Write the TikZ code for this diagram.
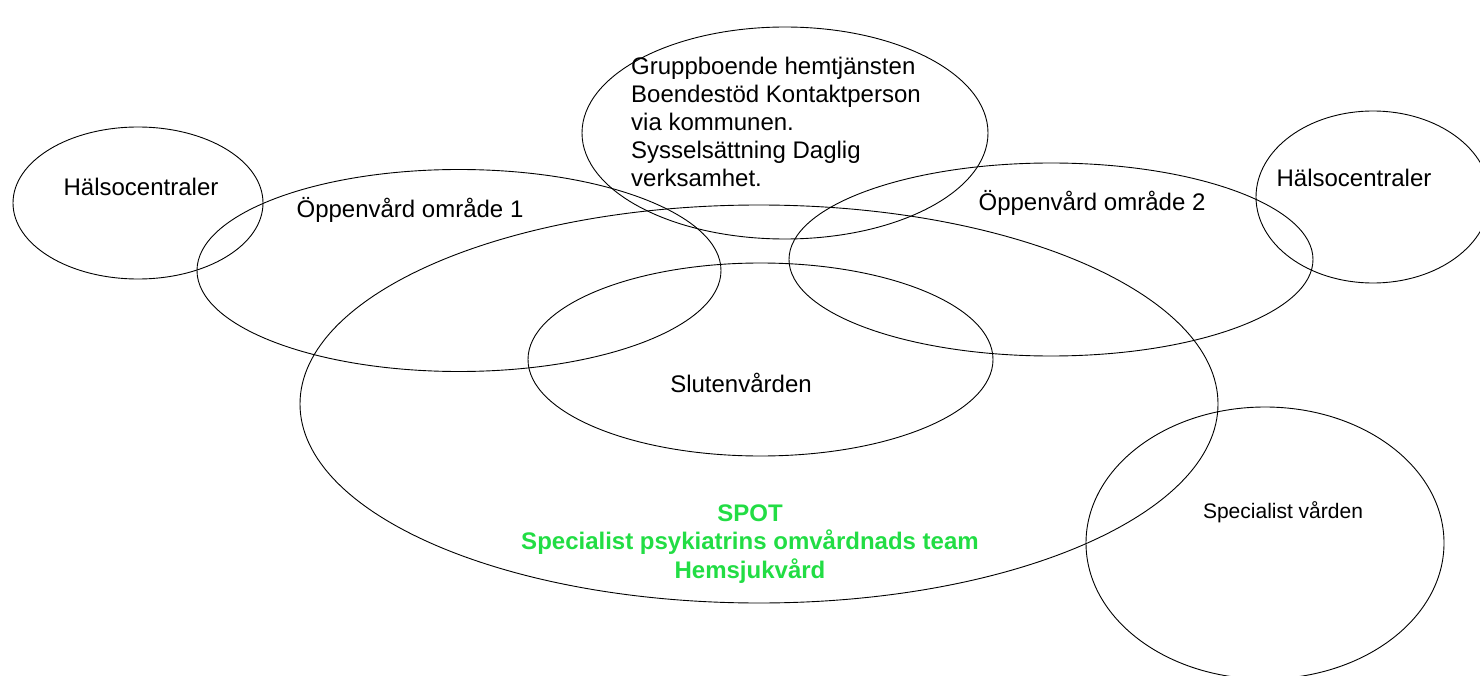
\documentclass[tikz,border=0pt]{standalone}
\usepackage{fontspec}
\setmainfont{Liberation Sans}
\usetikzlibrary{shapes.geometric}
\definecolor{spotgreen}{RGB}{34,221,68}
\tikzset{
  ring/.style={draw=black, line width=0.9pt, ellipse, inner sep=0pt},
  lbl/.style={inner sep=0pt, font=\fontsize{24}{28}\selectfont},
  small/.style={inner sep=0pt, font=\fontsize{21}{25}\selectfont},
  spot/.style={inner sep=0pt, align=center, text=spotgreen, font=\fontsize{24}{28.5}\selectfont\bfseries}
}
\begin{document}
\begin{tikzpicture}[x=1pt,y=-1pt]
\useasboundingbox (0,0) rectangle (1480,676);
% ellipses
\node[ring, minimum width=250pt, minimum height=152pt] (hc1) at (138,203) {};
\node[ring, minimum width=524pt, minimum height=202pt] (opp1) at (459,270.5) {};
\node[ring, minimum width=406pt, minimum height=212pt] (komm) at (785,133) {};
\node[ring, minimum width=524pt, minimum height=193pt] (opp2) at (1051,259.5) {};
\node[ring, minimum width=234pt, minimum height=172pt] (hc2) at (1373,197) {};
\node[ring, minimum width=918pt, minimum height=398pt] (spotE) at (759,404) {};
\node[ring, minimum width=465pt, minimum height=193pt] (slut) at (760.5,359.5) {};
\node[ring, minimum width=358pt, minimum height=272pt] (spec) at (1265,543) {};
% labels
\node[lbl, anchor=base] (thc1) at (141,196) {Hälsocentraler};
\node[lbl, anchor=base] (thc2) at (1354,187) {Hälsocentraler};
\node[lbl, anchor=base] (topp1) at (410,218) {Öppenvård område 1};
\node[lbl, anchor=base] (topp2) at (1092,211) {Öppenvård område 2};
\node[lbl, anchor=base] (tslut) at (741,392) {Slutenvården};
\node[small, anchor=base] (tspec) at (1283,518) {Specialist vården};
\node[lbl, align=left, anchor=base west] (tkomm) at (631,187) {Gruppboende hemtjänsten\\Boendestöd Kontaktperson\\via kommunen.\\Sysselsättning Daglig\\verksamhet.};
\node[spot, anchor=base] (tspot) at (750,578) {SPOT\\Specialist psykiatrins omvårdnads team\\Hemsjukvård};
\end{tikzpicture}
\end{document}
